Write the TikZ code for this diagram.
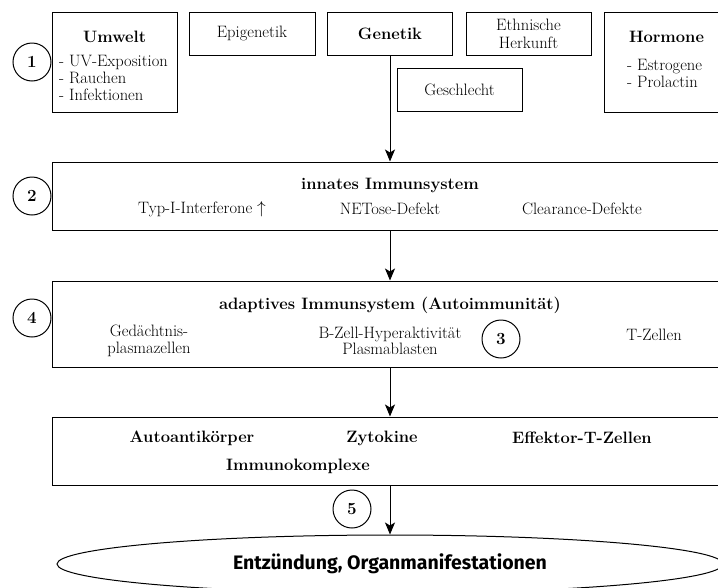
\documentclass[tikz,border=0pt]{standalone}
\usepackage{fontspec}
\newfontfamily\ellfont{Fira Sans}
\usetikzlibrary{arrows.meta,shapes.geometric}
\begin{document}
\begin{tikzpicture}[x=1pt,y=-1pt,
  box/.style={draw, line width=1pt, inner sep=0pt, align=center,
    font=\fontsize{16.5}{18}\selectfont},
  num/.style={draw, circle, line width=1pt, minimum size=38pt, inner sep=0pt,
    font=\fontsize{17}{18}\selectfont\bfseries},
  txt/.style={inner sep=0pt, align=center, font=\fontsize{16.5}{16.5}\selectfont},
  ttl/.style={inner sep=0pt, align=center, font=\fontsize{16.5}{17}\selectfont\bfseries},
  lst/.style={inner sep=0pt, align=left, anchor=west, font=\fontsize{16.5}{17}\selectfont},
  arr/.style={-{Stealth[length=12pt,width=10pt,inset=3pt]}, line width=1pt}]
\useasboundingbox (0,0) rectangle (718,587);

% top factor boxes
\node[box, minimum width=125pt, minimum height=100pt] (umwelt) at (114.5,62) {};
\node[ttl] (umwelttitle) at (114.5,37) {Umwelt};
\node[lst] (umweltlist) at (59,78) {- UV-Exposition\\- Rauchen\\- Infektionen};

\node[box, minimum width=126pt, minimum height=43pt] (epi) at (252,33.5) {Epigenetik};
\node[box, minimum width=125pt, minimum height=43pt, font=\fontsize{16.5}{18}\selectfont\bfseries] (gen) at (390,33.5) {Genetik};
\node[box, minimum width=125pt, minimum height=43pt] (eth) at (528.5,33.5) {Ethnische\\Herkunft};
\node[box, minimum width=125pt, minimum height=43pt] (sex) at (459.5,89.5) {Geschlecht};

\node[box, minimum width=125pt, minimum height=100pt] (horm) at (666.5,62) {};
\node[ttl] (hormtitle) at (666.5,37) {Hormone};
\node[lst] (hormlist) at (627,73.5) {- Estrogene\\- Prolactin};

% innate
\node[box, minimum width=676pt, minimum height=68pt] (innate) at (390,196) {};
\node[ttl] (innatetitle) at (390,185) {innates Immunsystem};
\node[txt] (ifn) at (202,209) {Typ-I-Interferone $\uparrow$};
\node[txt] (net) at (390,209) {NETose-Defekt};
\node[txt] (clr) at (582,209) {Clearance-Defekte};

% adaptive
\node[box, minimum width=676pt, minimum height=86pt] (adapt) at (390,324) {};
\node[ttl] (adapttitle) at (390,305) {adaptives Immunsystem (Autoimmunität)};
\node[txt] (gdpc) at (149,341) {Gedächtnis-\\plasmazellen};
\node[txt] (bzell) at (390,341) {B-Zell-Hyperaktivität\\Plasmablasten};
\node[txt] (tz) at (654,335) {T-Zellen};

% effector
\node[box, minimum width=676pt, minimum height=68pt] (eff) at (390,451) {};
\node[ttl] (aak) at (192,438) {Autoantikörper};
\node[ttl] (zyt) at (382,438) {Zytokine};
\node[ttl] (eft) at (582,438) {Effektor-T-Zellen};
\node[ttl] (imk) at (298,466) {Immunokomplexe};

% outcome
\node[draw, ellipse, line width=1pt, minimum width=666pt, minimum height=58pt, inner sep=0pt,
  font=\ellfont\fontsize{19.5}{20}\selectfont\bfseries] (out) at (390,564) {Entzündung, Organmanifestationen};

% numbered circles
\node[num] (n1) at (32,62) {1};
\node[num] (n2) at (32,196) {2};
\node[num] (n4) at (32,318) {4};
\node[num] (n3) at (501,339) {3};
\node[num] (n5) at (352,509) {5};

% arrows
\draw[arr] (gen.south) -- (innate.north);
\draw[arr] (innate.south) -- (adapt.north);
\draw[arr] (adapt.south) -- (eff.north);
\draw[arr] (eff.south) -- (out.north);
\end{tikzpicture}
\end{document}
